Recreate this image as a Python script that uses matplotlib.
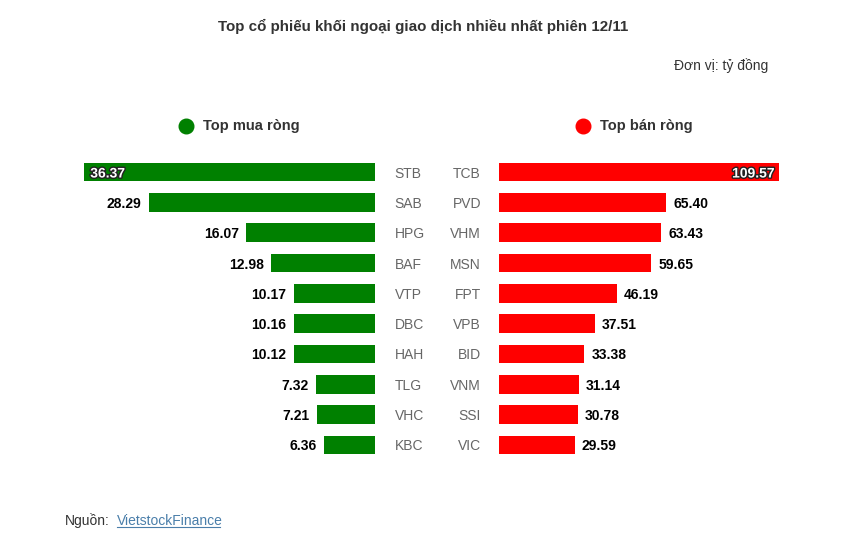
import matplotlib.pyplot as plt
import matplotlib.patheffects as pe

plt.rcParams['font.family'] = ['Liberation Sans', 'DejaVu Sans']

# Data (tỷ đồng)
buy_codes = ["STB", "SAB", "HPG", "BAF", "VTP", "DBC", "HAH", "TLG", "VHC", "KBC"]
buy_vals = [36.37, 28.29, 16.07, 12.98, 10.17, 10.16, 10.12, 7.32, 7.21, 6.36]
sell_codes = ["TCB", "PVD", "VHM", "MSN", "FPT", "VPB", "BID", "VNM", "SSI", "VIC"]
sell_vals = [109.57, 65.40, 63.43, 59.65, 46.19, 37.51, 33.38, 31.14, 30.78, 29.59]

GREEN = "#008000"
RED = "#ff0000"
TXT = "#333333"
W, H = 862, 556

fig = plt.figure(figsize=(W / 100, H / 100), dpi=100)

top = 1 - 156.85 / H
bot = 1 - 460.15 / H
axL = fig.add_axes([84 / W, bot, 291 / W, top - bot])
axR = fig.add_axes([499 / W, bot, 280 / W, top - bot])

ypos = list(range(len(buy_codes)))

# left: net buy
axL.barh(ypos, buy_vals, height=0.62, color=GREEN)
axL.set_xlim(max(buy_vals), 0)
axL.set_ylim(len(buy_codes) - 0.5, -0.5)
axL.yaxis.tick_right()
axL.set_yticks(ypos)
axL.set_yticklabels(buy_codes, fontsize=10, color="#666666")
axL.tick_params(axis="y", length=0, pad=14)
for lab in axL.get_yticklabels():
    lab.set_ha("left")

# right: net sell
axR.barh(ypos, sell_vals, height=0.62, color=RED)
axR.set_xlim(0, max(sell_vals))
axR.set_ylim(len(sell_codes) - 0.5, -0.5)
axR.set_yticks(ypos)
axR.set_yticklabels(sell_codes, fontsize=10, color="#666666")
axR.tick_params(axis="y", length=0, pad=13)

for ax in (axL, axR):
    ax.set_xticks([])
    for s in ax.spines.values():
        s.set_visible(False)
    ax.patch.set_alpha(0)

outline = [pe.withStroke(linewidth=2, foreground="#222222")]
lbl = dict(va="center_baseline", fontsize=10, fontweight="bold",
           textcoords="offset points", annotation_clip=False)
for i, v in enumerate(buy_vals):
    if i == 0:
        axL.annotate(f"{v:.2f}", (v, i), xytext=(4.5, 0), ha="left",
                     color="white", path_effects=outline, **lbl)
    else:
        axL.annotate(f"{v:.2f}", (v, i), xytext=(-5.5, 0), ha="right", color="black", **lbl)
for i, v in enumerate(sell_vals):
    if i == 0:
        axR.annotate(f"{v:.2f}", (v, i), xytext=(-3, 0), ha="right",
                     color="white", path_effects=outline, **lbl)
    else:
        axR.annotate(f"{v:.2f}", (v, i), xytext=(5, 0), ha="left", color="black", **lbl)

# titles and legend
fig.text(423 / W, 1 - 26 / H, "Top cổ phiếu khối ngoại giao dịch nhiều nhất phiên 12/11",
         ha="center", va="center", fontsize=10.9, fontweight="bold", color=TXT)
fig.text(768 / W, 1 - 66 / H, "Đơn vị: tỷ đồng", ha="right", va="center",
         fontsize=10, color=TXT)
fig.lines.append(plt.Line2D([186 / W], [1 - 126 / H], marker="o", markersize=10.5,
                            color=GREEN, transform=fig.transFigure))
fig.lines.append(plt.Line2D([583 / W], [1 - 126 / H], marker="o", markersize=10.5,
                            color=RED, transform=fig.transFigure))
fig.text(203 / W, 1 - 126 / H, "Top mua ròng", ha="left", va="center",
         fontsize=10.5, fontweight="bold", color=TXT)
fig.text(600 / W, 1 - 126 / H, "Top bán ròng", ha="left", va="center",
         fontsize=10.5, fontweight="bold", color=TXT)

# source
src = fig.text(65 / W, 1 - 521 / H, "Nguồn:", ha="left", va="center", fontsize=10, color=TXT)
fig.canvas.draw()
bb = src.get_window_extent()
link = fig.text((bb.x1 + 7) / W, 1 - 521 / H, "VietstockFinance", ha="left", va="center",
                fontsize=10, color="#4a7eaa")
fig.canvas.draw()
lb = link.get_window_extent()
fig.lines.append(plt.Line2D([lb.x0 / W, (lb.x1 - 3) / W], [(lb.y0 + 1) / H, (lb.y0 + 1) / H],
                            color="#4a7eaa", linewidth=0.8, transform=fig.transFigure))

fig.savefig("out.png", dpi=100)
